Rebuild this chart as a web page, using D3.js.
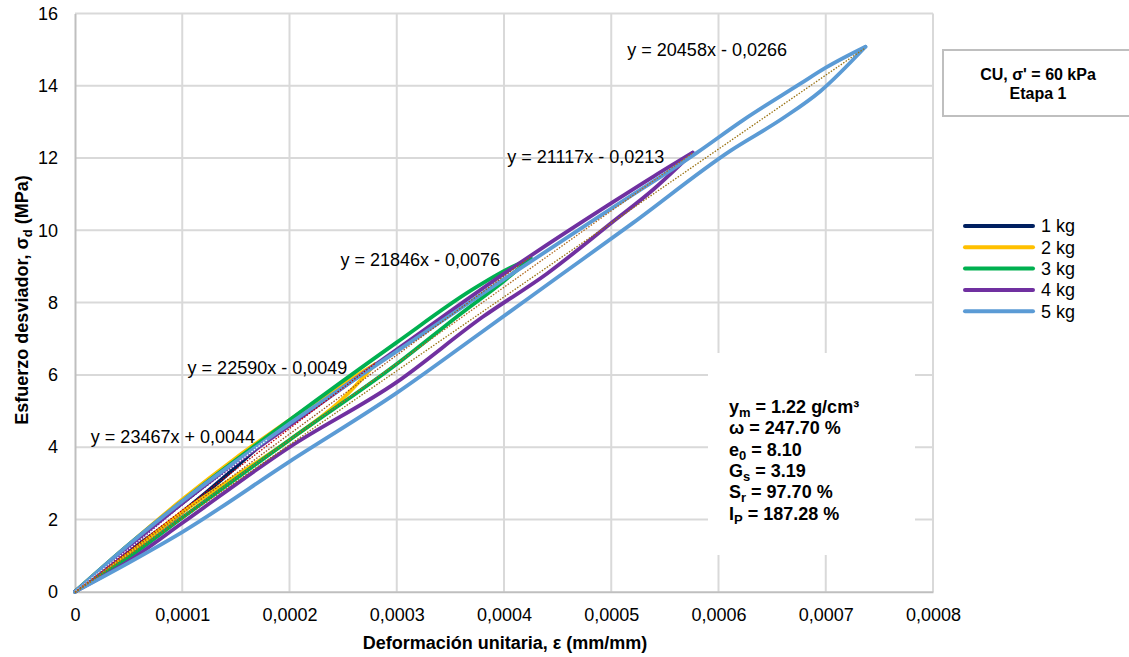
<!DOCTYPE html>
<html>
<head>
<meta charset="utf-8">
<script src="https://cdn.jsdelivr.net/npm/d3@7"></script>
<style>
  body { margin: 0; background: #fff; }
  svg { font-family: "Liberation Sans", Arial, sans-serif; }
</style>
</head>
<body>
<div id="chart"></div>
<script>
// series names and colours
const seriesNames = ["1 kg", "2 kg", "3 kg", "4 kg", "5 kg"];
const seriesColors = ["#002060", "#ffc000", "#00b050", "#7030a0", "#5b9bd5"];
const trendColors = ["#ffffff", "#c00000", "#a0521c", "#b06a20", "#9a7212"];

// loading (upper) and unloading (lower) branches, [strain, stress MPa]
const upper1 = [[0, 0], [0.00005, 1.25], [0.0001, 2.45], [0.00015, 3.6], [0.00018, 4.25]];
const lower1 = [[0, 0], [0.00005, 1.1], [0.0001, 2.2], [0.00015, 3.45], [0.00018, 4.25]];
const upper2 = [[0, 0], [0.00005, 1.3], [0.0001, 2.55], [0.00015, 3.7], [0.0002, 4.75], [0.00025, 5.75], [0.00028, 6.3]];
const lower2 = [[0, 0], [0.00005, 1.05], [0.0001, 2.2], [0.00015, 3.2], [0.0002, 4.2], [0.00025, 5.35], [0.00028, 6.3]];
const upper3 = [[0, 0], [0.00005, 1.3], [0.0001, 2.5], [0.0002, 4.75], [0.0003, 6.9], [0.00037, 8.35], [0.000405, 8.95], [0.000425, 9.22]];
const lower3 = [[0, 0], [0.00005, 0.95], [0.0001, 2.05], [0.0002, 4.2], [0.0003, 6.3], [0.00036, 7.7], [0.0004, 8.6], [0.000425, 9.22]];
const upper4 = [[0, 0], [0.00005, 1.2], [0.0001, 2.45], [0.0002, 4.6], [0.0003, 6.7], [0.0004, 8.8], [0.0005, 10.75], [0.00054, 11.5], [0.000576, 12.15]];
const lower4 = [[0, 0], [0.00005, 0.85], [0.0001, 1.9], [0.0002, 4.0], [0.0003, 5.8], [0.00038, 7.6], [0.00044, 8.8], [0.0005, 10.2], [0.00054, 11.15], [0.000576, 12.15]];
const upper5 = [[0, 0], [0.00005, 1.3], [0.0001, 2.5], [0.0002, 4.65], [0.0003, 6.65], [0.0004, 8.65], [0.0005, 10.6], [0.00058, 12.15], [0.000623, 13.05], [0.000676, 14.05], [0.0007, 14.5], [0.000737, 15.08]];
const lower5 = [[0, 0], [0.00005, 0.8], [0.0001, 1.65], [0.0002, 3.6], [0.0003, 5.5], [0.00038, 7.2], [0.00045, 8.7], [0.00052, 10.2], [0.000611, 12.2], [0.00066, 13.1], [0.000695, 13.85], [0.000737, 15.08]];

// trend lines: slope, intercept
const trendSlopes = [23467, 22590, 21846, 21117, 20458];
const trendIntercepts = [0.0044, -0.0049, -0.0076, -0.0213, -0.0266];
const trendLabels = ["y = 23467x + 0,0044", "y = 22590x - 0,0049", "y = 21846x - 0,0076", "y = 21117x - 0,0213", "y = 20458x - 0,0266"];
const trendLabelPos = [[0.0000148, 4.3], [0.000105, 6.2], [0.00024745, 9.18], [0.00040305, 12.05], [0.000515, 15.0]];

const xTicks = [0, 0.0001, 0.0002, 0.0003, 0.0004, 0.0005, 0.0006, 0.0007, 0.0008];
const xTickLabels = ["0", "0,0001", "0,0002", "0,0003", "0,0004", "0,0005", "0,0006", "0,0007", "0,0008"];
const yTicks = [0, 2, 4, 6, 8, 10, 12, 14, 16];

const statLines = [
  ["y", "m", " = 1.22 g/cm³"],
  ["ω", "", " = 247.70 %"],
  ["e", "0", " = 8.10"],
  ["G", "s", " = 3.19"],
  ["S", "r", " = 97.70 %"],
  ["I", "P", " = 187.28 %"]
];

const uppers = [upper1, upper2, upper3, upper4, upper5];
const lowers = [lower1, lower2, lower3, lower4, lower5];

const width = 1129, height = 657;
const svg = d3.select("#chart").append("svg")
  .attr("width", width)
  .attr("height", height);

const x = d3.scaleLinear().domain([0, 0.0008]).range([75, 933]);
const y = d3.scaleLinear().domain([0, 16]).range([591.7, 13.5]);

// gridlines
svg.append("g")
  .selectAll("line")
  .data(xTicks.slice(1))
  .enter().append("line")
  .attr("x1", d => x(d)).attr("x2", d => x(d))
  .attr("y1", y(16)).attr("y2", y(0))
  .attr("stroke", "#d9d9d9").attr("stroke-width", 2);

svg.append("g")
  .selectAll("line")
  .data(yTicks.slice(1))
  .enter().append("line")
  .attr("x1", x(0)).attr("x2", x(0.0008))
  .attr("y1", d => y(d)).attr("y2", d => y(d))
  .attr("stroke", "#d9d9d9").attr("stroke-width", 2);

// axes
const xAxis = svg.append("g")
  .attr("transform", `translate(0, ${y(0)})`)
  .call(d3.axisBottom(x).tickValues(xTicks).tickSize(0).tickFormat((d, i) => xTickLabels[i]));
xAxis.select(".domain").attr("stroke", "#bfbfbf").attr("stroke-width", 2);
xAxis.selectAll("text").attr("font-size", 18).attr("fill", "#000")
  .attr("font-family", "Liberation Sans, Arial, sans-serif").attr("y", 17).attr("dy", "0.71em");

const yAxis = svg.append("g")
  .attr("transform", `translate(${x(0)}, 0)`)
  .call(d3.axisLeft(y).tickValues(yTicks).tickSize(0).tickFormat(d3.format("d")));
yAxis.select(".domain").attr("stroke", "#bfbfbf").attr("stroke-width", 2);
yAxis.selectAll("text").attr("font-size", 18).attr("fill", "#000")
  .attr("font-family", "Liberation Sans, Arial, sans-serif").attr("x", -17);

// stats box covering gridlines
svg.append("rect")
  .attr("x", 708).attr("y", 353)
  .attr("width", 207).attr("height", 202)
  .attr("fill", "#fff");

// loops: each branch drawn as its own smooth path
const line = d3.line().x(d => x(d[0])).y(d => y(d[1])).curve(d3.curveMonotoneX);
for (let i = 0; i < 5; i++) {
  [lowers[i], uppers[i]].forEach(branch => {
    svg.append("path")
      .attr("d", line(branch))
      .attr("fill", "none")
      .attr("stroke", seriesColors[i])
      .attr("stroke-width", 3.8)
      .attr("stroke-linejoin", "round")
      .attr("stroke-linecap", "round");
  });
}

// trend lines
const straight = d3.line().x(d => x(d[0])).y(d => y(d[1]));
for (let i = 0; i < 5; i++) {
  const xEnd = uppers[i][uppers[i].length - 1][0];
  const pts = [[0, trendIntercepts[i]], [xEnd, trendSlopes[i] * xEnd + trendIntercepts[i]]];
  svg.append("path")
    .attr("d", straight(pts))
    .attr("fill", "none")
    .attr("stroke", trendColors[i])
    .attr("stroke-width", 1.3)
    .attr("stroke-dasharray", "1.5,1.5");
}

// trend labels
svg.append("g")
  .selectAll("text")
  .data(trendLabels)
  .enter().append("text")
  .attr("x", (d, i) => x(trendLabelPos[i][0]))
  .attr("y", (d, i) => y(trendLabelPos[i][1]))
  .attr("dy", "0.35em")
  .attr("font-size", 18)
  .text(d => d);

// axis titles
svg.append("text")
  .attr("x", 505).attr("y", 649)
  .attr("text-anchor", "middle")
  .attr("font-size", 18).attr("font-weight", "bold")
  .text("Deformación unitaria, ε (mm/mm)");

const yTitle = svg.append("text")
  .attr("transform", "translate(28, 300) rotate(-90)")
  .attr("text-anchor", "middle")
  .attr("font-size", 18).attr("font-weight", "bold");
yTitle.append("tspan").text("Esfuerzo desviador, σ");
yTitle.append("tspan").attr("font-size", 13).attr("dy", 4).text("d");
yTitle.append("tspan").attr("dy", -4).text("  (MPa)");

// title box
svg.append("rect")
  .attr("x", 943).attr("y", 50)
  .attr("width", 200).attr("height", 66)
  .attr("fill", "#fff")
  .attr("stroke", "#bfbfbf").attr("stroke-width", 2);
svg.append("text")
  .attr("x", 1038).attr("y", 80)
  .attr("text-anchor", "middle")
  .attr("font-size", 16).attr("font-weight", "bold")
  .text("CU, σ' = 60 kPa");
svg.append("text")
  .attr("x", 1038).attr("y", 99)
  .attr("text-anchor", "middle")
  .attr("font-size", 16).attr("font-weight", "bold")
  .text("Etapa 1");

// legend
const legend = svg.append("g")
  .selectAll("g")
  .data(seriesNames)
  .enter().append("g")
  .attr("transform", (d, i) => `translate(0, ${226 + i * 21.3})`);
legend.append("line")
  .attr("x1", 965).attr("x2", 1033)
  .attr("stroke", (d, i) => seriesColors[i])
  .attr("stroke-width", 4)
  .attr("stroke-linecap", "round");
legend.append("text")
  .attr("x", 1041).attr("dy", "0.35em")
  .attr("font-size", 18)
  .text(d => d);

// soil properties
const stats = svg.append("g")
  .selectAll("text")
  .data(statLines)
  .enter().append("text")
  .attr("x", 729)
  .attr("y", (d, i) => 413 + i * 21.3)
  .attr("font-size", 18)
  .attr("font-weight", "bold");
stats.append("tspan").text(d => d[0]);
stats.filter(d => d[1] !== "").append("tspan").attr("font-size", 13).attr("dy", 4).text(d => d[1]);
stats.append("tspan").attr("dy", d => d[1] !== "" ? -4 : 0).text(d => d[2]);
</script>
</body>
</html>
